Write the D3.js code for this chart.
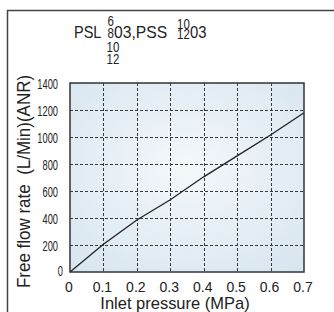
<!DOCTYPE html>
<html>
<head>
<meta charset="utf-8">
<script src="https://cdn.jsdelivr.net/npm/d3@7"></script>
<style>
  body { margin: 0; background: #fff; }
  svg { display: block; }
  text { font-family: "Liberation Sans", Arial, sans-serif; fill: #222; }
</style>
</head>
<body>
<script>
// data
const pressure = [0, 0.1, 0.2, 0.3, 0.4, 0.5, 0.6, 0.7];
const flow = [0, 205, 385, 535, 705, 860, 1015, 1180];
const xTicks = [0, 0.1, 0.2, 0.3, 0.4, 0.5, 0.6, 0.7];
const yTicks = [0, 200, 400, 600, 800, 1000, 1200, 1400];

const W = 334, H = 312;
const plot = {left: 70, right: 304, top: 83, bottom: 272};

const svg = d3.select('body').append('svg')
  .attr('width', W)
  .attr('height', H);

// squeeze text horizontally, the original uses a narrow face
function narrow(sel, k) {
  sel.each(function() {
    const w = this.getComputedTextLength();
    d3.select(this).attr('textLength', w * k).attr('lengthAdjust', 'spacingAndGlyphs');
  });
}

// outer frame
svg.append('path')
  .attr('d', `M7.5,${H} V10.5 H${W}`)
  .attr('fill', 'none')
  .attr('stroke', '#444')
  .attr('stroke-width', 1.5);

const x = d3.scaleLinear().domain([0, 0.7]).range([plot.left, plot.right]);
const y = d3.scaleLinear().domain([0, 1400]).range([plot.bottom, plot.top]);

// plot background
const grad = svg.append('defs').append('radialGradient')
  .attr('id', 'bg').attr('cx', '50%').attr('cy', '45%').attr('r', '70%');
grad.append('stop').attr('offset', '0%').attr('stop-color', '#f4f8fb');
grad.append('stop').attr('offset', '100%').attr('stop-color', '#d8e6f0');

svg.append('rect')
  .attr('x', plot.left).attr('y', plot.top)
  .attr('width', plot.right - plot.left)
  .attr('height', plot.bottom - plot.top)
  .attr('fill', 'url(#bg)');

// grid
const grid = svg.append('g')
  .attr('stroke', '#3a3a3a')
  .attr('stroke-width', 1)
  .attr('stroke-dasharray', '3,2');

grid.selectAll('line.v')
  .data(xTicks.slice(1, -1))
  .join('line')
  .attr('x1', (d) => Math.round(x(d)) + 0.5)
  .attr('x2', (d) => Math.round(x(d)) + 0.5)
  .attr('y1', plot.top).attr('y2', plot.bottom);

grid.selectAll('line.h')
  .data(yTicks.slice(1, -1))
  .join('line')
  .attr('y1', (d) => Math.round(y(d)) + 0.5)
  .attr('y2', (d) => Math.round(y(d)) + 0.5)
  .attr('x1', plot.left).attr('x2', plot.right);

// curve
const line = d3.line()
  .x((d, i) => x(pressure[i]))
  .y((d) => y(d));

svg.append('path')
  .datum(flow)
  .attr('d', line)
  .attr('fill', 'none')
  .attr('stroke', '#222')
  .attr('stroke-width', 1.3);

// plot border
svg.append('rect')
  .attr('x', plot.left).attr('y', plot.top)
  .attr('width', plot.right - plot.left)
  .attr('height', plot.bottom - plot.top)
  .attr('fill', 'none')
  .attr('stroke', '#333')
  .attr('stroke-width', 1.5);

// tick labels
const xAxis = d3.axisBottom(x).tickValues(xTicks).tickSize(0).tickPadding(10)
  .tickFormat((d) => d === 0 ? '0' : d3.format('.1f')(d));
svg.append('g')
  .attr('transform', `translate(0,${plot.bottom})`)
  .call(xAxis)
  .call((g) => g.select('.domain').remove())
  .selectAll('text')
  .attr('font-size', 14)
  .attr('font-family', '"Liberation Sans", Arial, sans-serif')
  .attr('fill', '#222')
  .attr('dx', -1.5);

const yAxis = d3.axisLeft(y).tickValues(yTicks).tickSize(0).tickPadding(12)
  .tickFormat(d3.format('d'));
svg.append('g')
  .attr('transform', `translate(${plot.left},0)`)
  .call(yAxis)
  .call((g) => g.select('.domain').remove())
  .selectAll('text')
  .attr('font-size', 15.5)
  .attr('font-family', '"Liberation Sans", Arial, sans-serif')
  .attr('fill', '#222')
  .attr('dx', (d) => d === 0 ? 5 : 0)
  .attr('dy', (d) => d === 0 ? '0.2em' : '0.38em')
  .call(narrow, 0.6);

svg.append('text')
  .attr('x', 175).attr('y', 309)
  .attr('text-anchor', 'middle')
  .attr('font-size', 17)
  .text('Inlet pressure (MPa)')
  .call(narrow, 0.97);

svg.append('text')
  .attr('transform', 'translate(29.5,181.5) rotate(-90)')
  .attr('text-anchor', 'middle')
  .attr('font-size', 17.5)
  .attr('xml:space', 'preserve')
  .text('Free flow rate  (L/Min)(ANR)')
  .call(narrow, 0.97);

// model title
const title = svg.append('g').attr('font-size', 16.5);
title.append('text').attr('x', 74).attr('y', 38).text('PSL').call(narrow, 0.88);

const stackL = ['6', '8', '10', '12'];
const stackLy = [25.5, 38, 52, 63.5];
title.selectAll('text.sl')
  .data(stackL)
  .join('text')
  .attr('class', 'sl')
  .attr('font-size', 15.5)
  .attr('x', (d) => d.length > 1 ? 106.5 : 107.5)
  .attr('y', (d, i) => stackLy[i])
  .text((d) => d)
  .call(narrow, 0.74);

title.append('text').attr('x', 114).attr('y', 38).text('03,PSS').call(narrow, 0.95);

const stackR = ['10', '12'];
const stackRy = [28.5, 38.5];
title.selectAll('text.sr')
  .data(stackR)
  .join('text')
  .attr('class', 'sr')
  .attr('font-size', 15.5)
  .attr('x', 177)
  .attr('y', (d, i) => stackRy[i])
  .text((d) => d)
  .call(narrow, 0.74);

title.append('text').attr('x', 190).attr('y', 38).text('03').call(narrow, 0.9);
</script>
</body>
</html>
